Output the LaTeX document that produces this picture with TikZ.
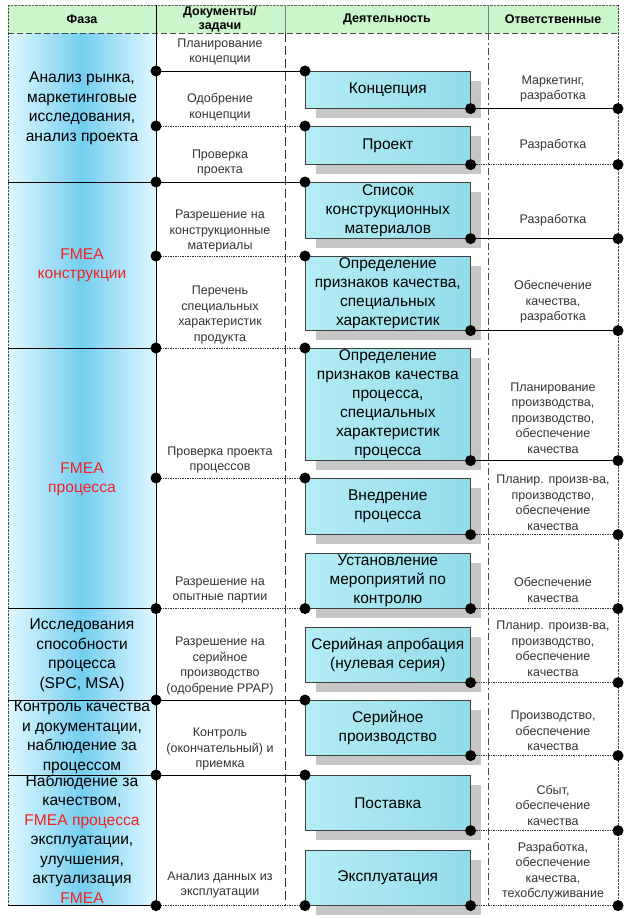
\documentclass[tikz,border=0pt]{standalone}
\usepackage{fontspec}
\setmainfont{Liberation Sans}
\usetikzlibrary{positioning,calc,shadows}
\definecolor{phaseblue}{HTML}{74CEF0}
\definecolor{phaseice}{HTML}{E0F8FF}
\definecolor{boxcyan}{HTML}{92DBE9}
\definecolor{boxice}{HTML}{B4EDF5}
\definecolor{headgreen}{HTML}{CBF5CB}
\definecolor{shadowgrey}{HTML}{C6C6C6}
\definecolor{fmeared}{HTML}{F02222}

\begin{document}
\begin{tikzpicture}[x=1pt,y=-1pt,
  every node/.style={inner sep=0pt},
  head/.style={font=\bfseries\fontsize{12.5}{14}\selectfont, align=center},
  phase/.style={font=\fontsize{15.6}{19.5}\selectfont, align=center},
  fmea/.style={phase, text=fmeared},
  doc/.style={font=\fontsize{12.5}{15.5}\selectfont, align=center, text=black!80},
  actbox/.style={draw=black!75, line width=0.6pt, anchor=north west, minimum width=165pt,
    left color=boxice, right color=boxcyan, align=center, font=\fontsize{15.5}{19}\selectfont,
    drop shadow={fill=shadowgrey, opacity=1, shadow xshift=11pt, shadow yshift=-10pt}},
  dot/.style={circle, fill=black, minimum size=11pt, inner sep=0pt},
  solidlink/.style={draw=black, line width=0.7pt},
  dotlink/.style={draw=black!80, line width=0.7pt, densely dotted}]
\useasboundingbox (0,0) rectangle (629,919);
% columns and header
\shade[left color=phaseice, right color=phaseice, middle color=phaseblue] (8,33) rectangle (156,905);
\fill[headgreen] (8,5) rectangle (618,33);
\draw[black!60, densely dotted] (8,5) -- (618,5);
\draw[black!70, dash pattern=on 6pt off 3pt] (8,33) -- (618,33);
\coordinate (colB) at (156,0);
\coordinate (colE) at (618,0);
\draw[black, line width=0.8pt] (156,5) -- (156,905);
\draw[black!50] (285,5) -- (285,33);
\draw[black!50] (488,5) -- (488,33);
\draw[black!80, dash pattern=on 9pt off 4pt] (285,33) -- (285,905);
\draw[black!70, dash pattern=on 7pt off 3pt on 2pt off 3pt] (488,33) -- (488,905);
\draw[black!70, densely dotted] (618,5) -- (618,905);
\draw[black!70, densely dotted] (8,5) -- (8,905);
\foreach \y in {182,348,608,700,775,905} \draw[black, line width=0.7pt] (8,\y) -- (156,\y);
\node[head] (hphase) at (82,19) {Фаза};
\node[head] (hdocs) at (220,19) {Документы/\\задачи};
\node[head] (hact) at (387,19) {Деятельность};
\node[head] (hresp) at (553,19) {Ответственные};
% phases
\node[phase] (market) at (82,108) {Анализ рынка,\\маркетинговые\\исследования,\\анализ проекта};
\node[fmea] (dfmea) at (82,265) {FMEA\\конструкции};
\node[fmea] (pfmea) at (82,479) {FMEA\\процесса};
\node[phase] (capab) at (82,655) {Исследования\\способности\\процесса\\(SPC, MSA)};
\node[phase] (quality) at (82,737) {Контроль качества\\и документации,\\наблюдение за\\процессом};
\node[phase] (monitor) at (82,839) {Наблюдение за\\качеством,\\\textcolor{fmeared}{FMEA процесса}\\эксплуатации,\\улучшения,\\актуализация\\\textcolor{fmeared}{FMEA}};
% documents / tasks
\node[doc] (plan) at (220,52) {Планирование\\концепции};
\node[doc] (approve) at (220,107) {Одобрение\\концепции};
\node[doc] (check) at (220,163) {Проверка\\проекта};
\node[doc] (matok) at (220,231) {Разрешение на\\конструкционные\\материалы};
\node[doc] (speclist) at (220,315) {Перечень\\специальных\\характеристик\\продукта};
\node[doc] (proccheck) at (220,460) {Проверка проекта\\процессов};
\node[doc] (pilotok) at (220,590) {Разрешение на\\опытные партии};
\node[doc] (ppap) at (220,666) {Разрешение на\\серийное\\производство\\(одобрение PPAP)};
\node[doc] (accept) at (220,749) {Контроль\\(окончательный) и\\приемка};
\node[doc] (fielddata) at (220,885) {Анализ данных из\\эксплуатации};
% activities
\node[actbox, minimum height=37pt] (concept) at (305,71) {Концепция};
\node[actbox, minimum height=38pt] (project) at (305,126) {Проект};
\node[actbox, minimum height=56pt] (materials) at (305,182) {Список\\конструкционных\\материалов};
\node[actbox, minimum height=74pt] (features) at (305,256) {Определение\\признаков качества,\\специальных\\характеристик};
\node[actbox, minimum height=112pt] (procfeat) at (305,348) {Определение\\признаков качества\\процесса,\\специальных\\характеристик\\процесса};
\node[actbox, minimum height=56pt] (launch) at (305,478) {Внедрение\\процесса};
\node[actbox, minimum height=55pt] (control) at (305,553) {Установление\\мероприятий по\\контролю};
\node[actbox, minimum height=55pt] (trial) at (305,627) {Серийная апробация\\(нулевая серия)};
\node[actbox, minimum height=55pt] (series) at (305,700) {Серийное\\производство};
\node[actbox, minimum height=55pt] (delivery) at (305,775) {Поставка};
\node[actbox, minimum height=55pt] (usage) at (305,850) {Эксплуатация};
% responsible
\node[doc] (rconcept) at (553,89) {Маркетинг,\\разработка};
\node[doc] (rproject) at (553,145) {Разработка};
\node[doc] (rmaterials) at (553,220) {Разработка};
\node[doc] (rfeatures) at (553,302) {Обеспечение\\качества,\\разработка};
\node[doc] (rprocfeat) at (553,418) {Планирование\\производства,\\производство,\\обеспечение\\качества};
\node[doc] (rlaunch) at (553,503) {Планир. произв-ва,\\производство,\\обеспечение\\качества};
\node[doc] (rcontrol) at (553,590) {Обеспечение\\качества};
\node[doc] (rtrial) at (553,649) {Планир. произв-ва,\\производство,\\обеспечение\\качества};
\node[doc] (rseries) at (553,731) {Производство,\\обеспечение\\качества};
\node[doc] (rdelivery) at (553,805) {Сбыт,\\обеспечение\\качества};
\node[doc] (rusage) at (553,871) {Разработка,\\обеспечение\\качества,\\техобслуживание};
% links with dots
\foreach \b/\a/\s in {concept/north west/solidlink, project/north west/dotlink,
    materials/north west/solidlink, features/north west/dotlink, procfeat/north west/dotlink,
    launch/north west/dotlink, control/south west/dotlink, series/north west/solidlink,
    delivery/north west/solidlink, usage/south west/dotlink}
  \draw[\s] (\b.\a -| colB) node[dot]{} -- (\b.\a) node[dot]{};
\foreach \b/\s in {concept/solidlink, project/dotlink, materials/solidlink, features/solidlink,
    procfeat/solidlink, launch/dotlink, control/dotlink, trial/dotlink, series/dotlink,
    delivery/dotlink, usage/dotlink}
  \draw[\s] (\b.south east) node[dot]{} -- (\b.south east -| colE) node[dot]{};
\end{tikzpicture}
\end{document}
